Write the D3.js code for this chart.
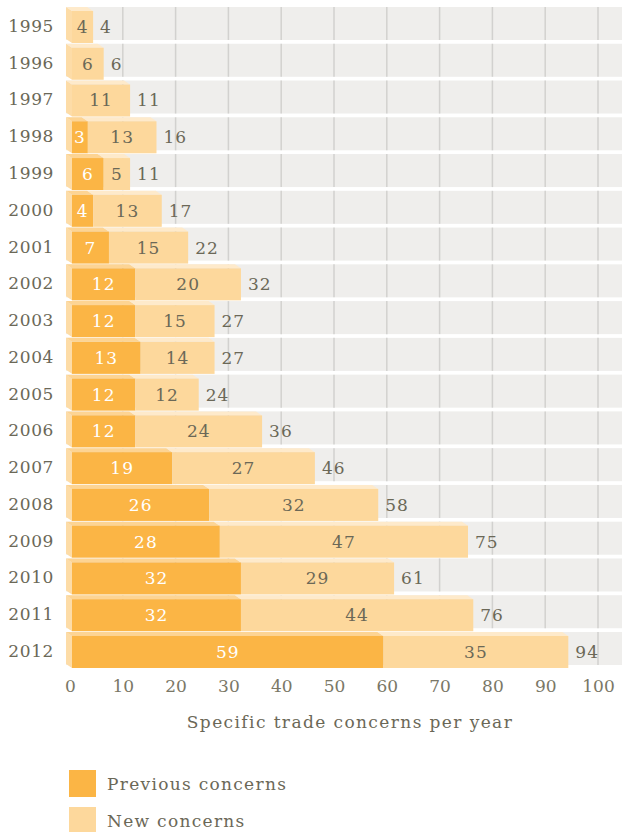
<!DOCTYPE html>
<html>
<head>
<meta charset="utf-8">
<script src="https://cdn.jsdelivr.net/npm/d3@7"></script>
<style>
  body { margin: 0; background: #fff; }
  svg text { font-family: "DejaVu Serif", serif; fill: #6b6857; }
</style>
</head>
<body>
<div id="chart"></div>
<script>
// Specific trade concerns per year
const years = ['1995', '1996', '1997', '1998', '1999', '2000', '2001', '2002', '2003',
    '2004', '2005', '2006', '2007', '2008', '2009', '2010', '2011', '2012'];
const previousConcerns = [0, 0, 0, 3, 6, 4, 7, 12, 12, 13, 12, 12, 19, 26, 28, 32, 32, 59];
const newConcerns = [4, 6, 11, 13, 5, 13, 15, 20, 15, 14, 12, 24, 27, 32, 47, 29, 44, 35];
const xTicks = [0, 10, 20, 30, 40, 50, 60, 70, 80, 90, 100];
const legendLabels = ['Previous concerns', 'New concerns'];

const width = 622, height = 832;
const colors = {
    prevFront: '#fbb545',
    newFront: '#fdd89c',
    prevTop: '#fdd493',
    newTop: '#feeacb',
    side: '#fddca7',
    band: '#efeeec',
    grid: '#d2d1cf'
};

const svg = d3.select('#chart').append('svg')
    .attr('width', width)
    .attr('height', height);

const x = d3.scaleLinear().domain([0, 100]).range([72, 600]);
const y = d3.scaleBand().domain(years).range([7, 665]).paddingInner(0.102).paddingOuter(0);

const rows = years.map((yr, i) => ({
    year: yr,
    prev: previousConcerns[i],
    neu: newConcerns[i],
    total: previousConcerns[i] + newConcerns[i]
}));

// grey row bands
svg.append('g').selectAll('rect')
    .data(rows)
    .join('rect')
    .attr('x', 66)
    .attr('y', d => y(d.year))
    .attr('width', width - 66)
    .attr('height', y.bandwidth())
    .attr('fill', colors.band);

// vertical gridlines, only inside the bands
const grid = svg.append('g');
rows.forEach(d => {
    grid.selectAll(null)
        .data(xTicks.slice(1))
        .join('line')
        .attr('x1', t => x(t) - 2).attr('x2', t => x(t) - 2)
        .attr('y1', y(d.year)).attr('y2', y(d.year) + y.bandwidth())
        .attr('stroke', colors.grid)
        .attr('stroke-width', 1.5);
});

const dx = 6, dy = 4;
const bh = 32;
const bars = svg.append('g').selectAll('g')
    .data(rows)
    .join('g')
    .attr('transform', d => `translate(0,${y(d.year) + dy})`);

// left face
bars.append('path')
    .attr('d', `M${x(0) - dx},${-dy}L${x(0)},0L${x(0)},${bh}L${x(0) - dx},${bh - dy}Z`)
    .attr('fill', colors.side);

// top faces
bars.append('path')
    .attr('d', d => {
        const a = x(0), b = x(d.prev);
        return `M${a - dx},${-dy}L${b - dx},${-dy}L${b},0L${a},0Z`;
    })
    .attr('fill', colors.prevTop)
    .attr('display', d => d.prev ? null : 'none');
bars.append('path')
    .attr('d', d => {
        const a = x(d.prev), b = x(d.total);
        return `M${a - dx},${-dy}L${b - dx},${-dy}L${b},0L${a},0Z`;
    })
    .attr('fill', colors.newTop);

// front faces
bars.append('rect')
    .attr('x', x(0))
    .attr('y', 0)
    .attr('width', d => x(d.prev) - x(0))
    .attr('height', bh)
    .attr('fill', colors.prevFront);
bars.append('rect')
    .attr('x', d => x(d.prev))
    .attr('y', 0)
    .attr('width', d => x(d.total) - x(d.prev))
    .attr('height', bh)
    .attr('fill', colors.newFront);

// value labels
const labelStyle = sel => sel
    .attr('y', bh / 2)
    .attr('dy', '0.35em')
    .style('font-size', '17px')
    .style('letter-spacing', '1px');
bars.filter(d => d.prev > 0).append('text')
    .call(labelStyle)
    .attr('x', d => (x(0) + x(d.prev)) / 2)
    .attr('text-anchor', 'middle')
    .style('fill', '#fff')
    .text(d => d.prev);
bars.append('text')
    .call(labelStyle)
    .attr('x', d => (x(d.prev) + x(d.total)) / 2)
    .attr('text-anchor', 'middle')
    .text(d => d.neu);
bars.append('text')
    .call(labelStyle)
    .attr('x', d => x(d.total) + 7)
    .text(d => d.total);

// year labels
svg.append('g').selectAll('text')
    .data(rows)
    .join('text')
    .attr('x', 54)
    .attr('y', d => y(d.year) + 19)
    .attr('dy', '0.35em')
    .attr('text-anchor', 'end')
    .style('font-size', '17px')
    .style('letter-spacing', '0.6px')
    .text(d => d.year);

// x axis
const xAxis = svg.append('g')
    .attr('transform', 'translate(-2,680)')
    .call(d3.axisBottom(x).tickValues(xTicks).tickSize(0).tickPadding(0));
xAxis.select('.domain').remove();
xAxis.selectAll('text')
    .style('font-size', '17px')
    .style('font-family', '"DejaVu Serif", serif')
    .style('fill', '#7a7766')
    .attr('fill', null);

svg.append('text')
    .attr('x', 350)
    .attr('y', 728)
    .attr('text-anchor', 'middle')
    .style('font-size', '17px')
    .style('letter-spacing', '1.4px')
    .text('Specific trade concerns per year');

// legend
const legend = svg.append('g').selectAll('g')
    .data(legendLabels)
    .join('g')
    .attr('transform', (d, i) => `translate(69,${770 + i * 37})`);
legend.append('rect')
    .attr('width', 27).attr('height', 27)
    .attr('fill', (d, i) => i === 0 ? colors.prevFront : colors.newFront);
legend.append('text')
    .attr('x', 38)
    .attr('y', 14)
    .attr('dy', '0.35em')
    .style('font-size', '17px')
    .style('letter-spacing', '1.3px')
    .text(d => d);
</script>
</body>
</html>
